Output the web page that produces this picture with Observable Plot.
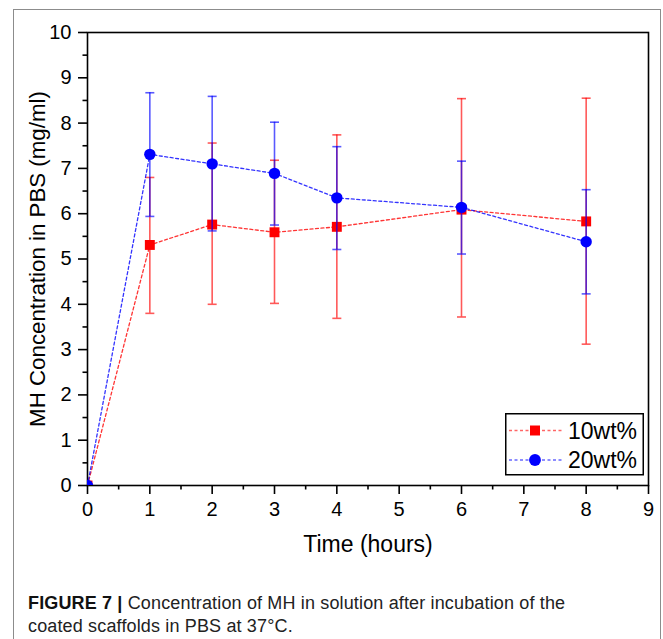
<!DOCTYPE html>
<html><head><meta charset="utf-8">
<script src="https://cdn.jsdelivr.net/npm/d3@7"></script>
<script src="https://cdn.jsdelivr.net/npm/@observablehq/plot@0.6"></script>
<style>
body{margin:0;background:#fff;width:663px;height:639px;overflow:hidden;position:relative;font-family:"Liberation Sans",Arial,sans-serif;}
#border{position:absolute;left:13px;top:9px;width:648px;height:660px;border:1.5px solid #8c8c8c;border-bottom:none;box-sizing:border-box;}
#chart{position:absolute;left:0;top:0;}
#legend{position:absolute;left:505px;top:413px;}
#caption{position:absolute;left:28px;top:592px;font-family:"Liberation Sans",Arial,sans-serif;font-size:18px;letter-spacing:0.15px;line-height:23px;color:#222;white-space:nowrap;}
#caption b{font-weight:bold;color:#111;}
</style></head>
<body>
<div id="border"></div>
<div id="chart"></div>
<div id="legend"></div>
<div id="caption"><b>FIGURE 7 |</b> Concentration of MH in solution after incubation of the<br>coated scaffolds in PBS at 37°C.</div>
<script>
const times  = [0, 1, 2, 3, 4, 6, 8];
const mean10 = [0, 5.31, 5.76, 5.59, 5.71, 6.09, 5.83];
const low10  = [0, 3.80, 4.00, 4.02, 3.69, 3.72, 3.12];
const high10 = [0, 6.80, 7.56, 7.18, 7.74, 8.54, 8.55];
const mean20 = [0, 7.31, 7.10, 6.89, 6.35, 6.14, 5.38];
const low20  = [0, 5.94, 5.62, 5.75, 5.21, 5.11, 4.23];
const high20 = [0, 8.67, 8.59, 8.02, 7.48, 7.16, 6.53];
const seriesNames = ["10wt%", "20wt%"];
const seriesColors = ["#ff0000", "#0000ff"];
const xTicks = [0,1,2,3,4,5,6,7,8,9];
const yTicks = [0,1,2,3,4,5,6,7,8,9,10];
const xMinor = [0.5,1.5,2.5,3.5,4.5,5.5,6.5,7.5,8.5];
const yMinor = [0.5,1.5,2.5,3.5,4.5,5.5,6.5,7.5,8.5,9.5];

const rows = (m, lo, hi, s) => times.map((t, i) => ({t, m: m[i], lo: lo[i], hi: hi[i], s}));
const d10 = rows(mean10, low10, high10, seriesNames[0]);
const d20 = rows(mean20, low20, high20, seriesNames[1]);
const capSymbol = {draw(ctx){ ctx.moveTo(-4.5,0); ctx.lineTo(4.5,0); }};

function seriesMarks(d, color, symbol, r) {
  const eb = d.filter(r => r.t > 0);
  return [
    Plot.ruleX(eb, {x: "t", y1: "lo", y2: "hi", stroke: color, strokeOpacity: 0.65, strokeWidth: 1.6}),
    Plot.dot(eb, {x: "t", y: "hi", symbol: capSymbol, stroke: color, strokeOpacity: 0.65, strokeWidth: 1.6, fill: "none", r: 3}),
    Plot.dot(eb, {x: "t", y: "lo", symbol: capSymbol, stroke: color, strokeOpacity: 0.65, strokeWidth: 1.6, fill: "none", r: 3}),
    Plot.line(d, {x: "t", y: "m", stroke: color, strokeWidth: 1.3, strokeDasharray: "3,2.5", strokeOpacity: 0.8}),
    Plot.dot(d, {x: "t", y: "m", symbol, r, fill: color, stroke: "none", clip: true})
  ];
}

const chart = Plot.plot({
  width: 663, height: 575,
  marginLeft: 87, marginRight: 15, marginTop: 32, marginBottom: 90,
  style: {fontFamily: "'Liberation Sans', Arial, sans-serif", fontSize: "20px", color: "#000", background: "transparent"},
  x: {domain: [0, 9]},
  y: {domain: [0, 10]},
  marks: [
    Plot.frame({stroke: "#000", strokeWidth: 1.6}),
    ...seriesMarks(d10, seriesColors[0], "square", 5.6),
    ...seriesMarks(d20, seriesColors[1], "circle", 5.7),
    Plot.axisX({ticks: xTicks, tickSize: 9, tickPadding: 7, tickFormat: d => String(d), strokeWidth: 1.6,
      label: "Time (hours)", labelAnchor: "center", labelArrow: "none", labelOffset: 66}),
    Plot.axisX({ticks: xMinor, tickSize: 4.5, tickFormat: null, text: null, strokeWidth: 1.6, label: null}),
    Plot.axisY({ticks: yTicks, tickSize: 9, tickPadding: 7, tickFormat: d => String(d), strokeWidth: 1.6,
      label: "MH Concentration in PBS (mg/ml)", labelAnchor: "center", labelArrow: "none", labelOffset: 58}),
    Plot.axisY({ticks: yMinor, tickSize: 4.5, text: null, strokeWidth: 1.6, label: null})
  ]
});
const svg = d3.select(chart);
svg.selectAll("g[aria-label='x-axis tick label'], g[aria-label='y-axis tick label']").attr("font-size", null).style("font-size", "20px");
svg.selectAll("g[aria-label='x-axis label'], g[aria-label='x-axis label'] text").attr("font-size", null).style("font-size", "23px");
svg.selectAll("g[aria-label='y-axis label'], g[aria-label='y-axis label'] text").attr("font-size", null).style("font-size", "22.3px");
document.getElementById("chart").appendChild(chart);

// legend
const lg = d3.select("#legend").append("svg").attr("width", 140).attr("height", 63);
lg.append("rect").attr("x", 0.75).attr("y", 0.75).attr("width", 137.5).attr("height", 61)
  .attr("fill", "#fff").attr("stroke", "#000").attr("stroke-width", 1.5);
const symbols = ["square", "circle"];
seriesNames.forEach((name, i) => {
  const y = 17.5 + i * 29.5;
  const g = lg.append("g").attr("transform", `translate(0,${y})`);
  g.append("line").attr("x1", 4).attr("x2", 58).attr("y1", 0).attr("y2", 0)
    .attr("stroke", seriesColors[i]).attr("stroke-opacity", 0.6).attr("stroke-width", 1.3).attr("stroke-dasharray", "3,2.5");
  g.append("path").attr("transform", "translate(30,0)")
    .attr("d", d3.symbol(symbols[i] === "square" ? d3.symbolSquare : d3.symbolCircle, i === 0 ? 100 : 110)())
    .attr("fill", seriesColors[i]);
  g.append("text").attr("x", 63).attr("y", 0).attr("dy", "0.36em").text(name)
    .attr("font-family", "'Liberation Sans', Arial, sans-serif").attr("font-size", 23);
});
</script>
</body></html>
